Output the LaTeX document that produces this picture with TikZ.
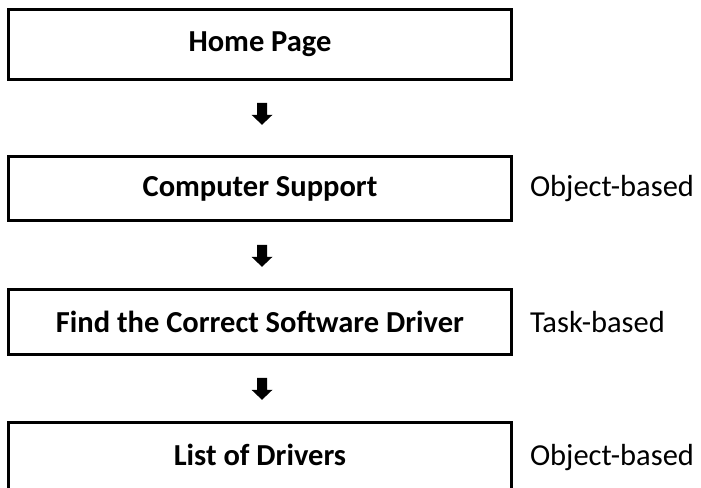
\documentclass[tikz,border=0pt]{standalone}
\usepackage{fontspec}
\setmainfont{Carlito}
\begin{document}
\begin{tikzpicture}[x=1pt,y=-1pt,
  page/.style={draw=black, line width=2.6pt, minimum width=503pt, inner sep=0pt,
    font=\fontsize{30.5}{32}\selectfont\bfseries},
  kind/.style={anchor=west, inner sep=0pt, font=\fontsize{30.5}{32}\selectfont},
  downarrow/.pic={\fill (-5,0) -- (5,0) -- (5,12) -- (10.5,12) -- (0,22) -- (-10.5,12) -- (-5,12) -- cycle;}
]
\useasboundingbox (0,0) rectangle (701,487);
\begin{scope}
\clip (0,0) rectangle (701,487);
\node[page, minimum height=70pt] (home) at (260,44.5) {Home Page};
\node[page, minimum height=64pt] (support) at (260,188.5) {Computer Support};
\node[page, minimum height=65pt] (finder) at (260,322) {Find the Correct Software Driver};
% the last page runs on below the lower edge
\node[page, anchor=base, text height=42.5pt, text depth=32pt] (list) at (260,465) {List of Drivers};

\node[kind] (k1) at ([xshift=17pt]support.east) {Object-based};
\node[kind] (k2) at ([xshift=17pt]finder.east) {Task-based};
\node[kind, anchor=base west] (k3) at ([xshift=17pt]list.base east) {Object-based};

\pic at ([xshift=2pt,yshift=-22pt]home.south) {downarrow};
\pic at ([xshift=2pt,yshift=-23pt]support.south) {downarrow};
\pic at ([xshift=2pt,yshift=-22pt]finder.south) {downarrow};
\end{scope}
\end{tikzpicture}
\end{document}
